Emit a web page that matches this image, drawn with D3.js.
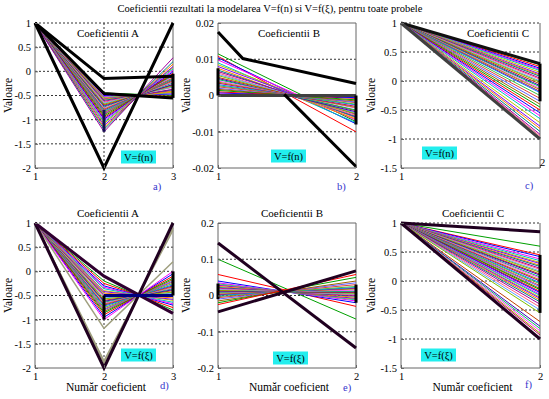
<!DOCTYPE html>
<html>
<head>
<meta charset="utf-8">
<script src="https://cdn.jsdelivr.net/npm/d3@7"></script>
<style>
  body { margin: 0; background: #fff; }
</style>
</head>
<body>
<div id="chart"></div>
<script>
// Coeficientii A, V=f(n): value at coefficient 2 and 3 for each sample (coefficient 1 is 1)
const aN2 = [-0.45, -0.47, -0.5, -0.52, -0.54, -0.55, -0.57, -0.58, -0.6, -0.62, -0.64, -0.66, -0.68, -0.7, -0.72, -0.74, -0.76,
             -0.78, -0.8, -0.82, -0.84, -0.86, -0.88, -0.9, -0.93, -0.96, -0.99, -1.02, -1.05, -1.08, -1.12, -1.16, -1.2, -1.25];
const aN3 = [-0.5, -0.52, -0.47, -0.45, -0.44, -0.43, -0.4, -0.41, -0.38, -0.37, -0.33, -0.32, -0.3, -0.28, -0.27, -0.24, -0.22,
             -0.2, -0.18, -0.16, -0.15, -0.13, -0.1, -0.08, -0.06, -0.04, -0.01, 0.02, 0.05, 0.08, 0.1, 0.15, 0.2, 0.28];
const aNHeavy = [[[1, 1], [2, -2], [3, 1]], [[1, 1], [2, -0.15], [3, -0.1]], [[1, 1], [2, -0.46], [3, -0.55]]];
const aNBars = [[3, -0.05, -0.55], [2, -0.8, -1.25]];

// Coeficientii B, V=f(n): value at coefficient 1 and 2
const bN1 = [0.0115, 0.0108, 0.0104, 0.0098, 0.009, 0.0085, 0.008, 0.0075, 0.007, 0.0066, 0.0062, 0.0058, 0.0055, 0.005,
             0.0047, 0.0044, 0.004, 0.0037, 0.0034, 0.003, 0.0027, 0.0024, 0.002, 0.0017, 0.0014, 0.001, 0.0007, 0.0004];
const bN2 = [-0.0072, -0.01, -0.0078, -0.0068, -0.0075, -0.0062, -0.006, -0.0065, -0.0058, -0.0052, -0.0055, -0.0048, -0.005, -0.0042,
             -0.0045, -0.004, -0.0035, -0.0033, -0.003, -0.0026, -0.0024, -0.002, -0.0018, -0.0015, -0.0012, -0.0008, -0.0006, -0.0003];
const bNHeavy = [[[1, 0.0175], [1.18, 0.0102], [2, 0.0033]], [[1.48, 0.0003], [2, -0.0196]]];
const bNZero = [[1, 0], [2, 0]];
const bNBars = [[1, 0, 0.0075], [2, 0, -0.008]];

// Coeficientii C, V=f(n): value at coefficient 2 (coefficient 1 is 1)
const cN2 = [0.28, 0.25, 0.22, 0.2, 0.18, 0.15, 0.12, 0.1, 0.08, 0.05, 0.03, 0.0, -0.02, -0.05, -0.08, -0.1, -0.13, -0.15,
             -0.18, -0.2, -0.25, -0.3, -0.35, -0.4, -0.45, -0.5, -0.55, -0.6, -0.65, -0.72, -0.78, -0.82, -0.87, -0.92, -0.95];
const cNHeavy = [[[1, 1], [2, 0.3]], [[1, 1], [2, -1.0]]];
const cNBars = [[2, 0.3, -0.35]];

// Coeficientii A, V=f(ξ)
const aX2 = [-0.2, -0.25, -0.3, -0.33, -0.36, -0.4, -0.42, -0.45, -0.48, -0.5, -0.52, -0.55, -0.57, -0.6, -0.62, -0.64, -0.66,
             -0.68, -0.7, -0.72, -0.75, -0.78, -0.8, -0.83, -0.86, -0.9, -0.95, -1.0];
const aX3 = [-0.8, -0.75, -0.7, -0.67, -0.64, -0.6, -0.58, -0.55, -0.52, -0.5, -0.48, -0.45, -0.43, -0.4, -0.38, -0.36, -0.34,
             -0.32, -0.3, -0.28, -0.25, -0.22, -0.2, -0.17, -0.14, -0.1, -0.05, 0.0];
const aXGrey = [[[1, 1], [2, -1.18], [3, 0.2]], [[1, 1], [2, -1.85], [3, 0.85]], [[1, 1], [2, -1.9], [3, 0.9]]];
const aXHeavy = [[[1, 1], [2, -2], [3, 1]], [[1, 1], [2, -0.1], [3, -0.87]], [[2, -0.5], [3, -0.5]]];
const aXBars = [[2, -0.5, -1.0], [3, 0, -0.5]];

// Coeficientii B, V=f(ξ)
const bX1 = [0.1, 0.058, 0.04, 0.035, 0.032, 0.03, 0.028, 0.025, 0.022, 0.02, 0.018, 0.016, 0.014, 0.012, 0.01, 0.008, 0.006,
             0.004, 0.002, 0.0, -0.003, -0.006, -0.01, -0.015, -0.02, -0.025];
const bX2 = [-0.065, -0.03, -0.02, -0.015, -0.012, -0.01, -0.008, -0.005, -0.002, 0.0, 0.002, 0.004, 0.006, 0.008, 0.01, 0.012,
             0.015, 0.018, 0.02, 0.022, 0.025, 0.03, 0.035, 0.04, 0.05, 0.058];
const bXHeavy = [[[1, 0.145], [2, -0.145]], [[1, -0.045], [2, 0.068]]];
const bXBars = [[1, -0.01, 0.033], [2, -0.02, 0.03]];

// Coeficientii C, V=f(ξ)
const cX2 = [0.6, 0.45, 0.42, 0.38, 0.35, 0.32, 0.3, 0.27, 0.25, 0.22, 0.2, 0.17, 0.15, 0.12, 0.1, 0.07, 0.05, 0.02, 0.0, -0.03,
             -0.05, -0.08, -0.1, -0.13, -0.15, -0.18, -0.2, -0.23, -0.25, -0.28, -0.3, -0.33, -0.36, -0.4, -0.45, -0.5, -0.55,
             -0.7, -0.78, -0.82, -0.86, -0.9, -0.93];
const cXHeavy = [[[1, 1], [2, 0.85]], [[1, 1], [2, -1.0]]];
const cXBars = [[2, 0.45, -0.55]];

// axis ticks
const ticksA = [-2, -1.5, -1, -0.5, 0, 0.5, 1];
const ticksBn = [-0.02, -0.01, 0, 0.01, 0.02];
const ticksBx = [-0.2, -0.1, 0, 0.1, 0.2];
const ticksC = [-1.5, -1, -0.5, 0, 0.5, 1];
const xTicks3 = [1, 2, 3];
const xTicks2 = [1, 2];

const palette = ["#00a000", "#ff0000", "#0000ff", "#ff00ff", "#00c0c0", "#c0c000", "#8000ff", "#ff8000", "#008080",
                 "#a000a0", "#ff6080", "#60a0ff", "#80c000", "#c04000", "#4000c0", "#00c060", "#ff40ff", "#a0a000",
                 "#c00060", "#0080ff", "#40c040", "#e04040", "#6060ff", "#a06000"];

const FONT = "Liberation Serif";

const svg = d3.select("#chart").append("svg")
    .attr("width", 549).attr("height", 399)
    .attr("font-family", FONT)
    .style("background", "#fff");

const cols = [[35, 173], [218, 356], [401, 540]];
const rows = [[23, 168], [223, 368]];

const toLines3 = (m, e) => m.map((v, i) => [[1, 1], [2, v], [3, e[i]]]);
const toLines2 = (s, e) => s.map((v, i) => [[1, v], [2, e[i]]]);

const panels = [
  {c: 0, r: 0, xd: [1, 3], yd: [-2, 1], yt: ticksA, xt: xTicks3, lines: toLines3(aN2, aN3), heavy: aNHeavy, bars: aNBars,
   barColor: "#101050",
   title: "Coeficientii A", tx: 108, ty: 37, tag: "V=f(n)", tagX: 138, tagY: 157, letter: "a)", lx: 153, ly: 190, xGrid: [2], solidTop: false},
  {c: 1, r: 0, xd: [1, 2], yd: [-0.02, 0.02], yt: ticksBn, xt: xTicks2, lines: toLines2(bN1, bN2), heavy: bNHeavy, bars: bNBars,
   grey: [bNZero], greyColor: "#404040", greyWidth: 3,
   title: "Coeficientii B", tx: 289, ty: 37, tag: "V=f(n)", tagX: 288, tagY: 156, letter: "b)", lx: 337, ly: 190, xGrid: [], solidTop: true},
  {c: 2, r: 0, xd: [1, 2], yd: [-1.5, 1], yt: ticksC, xt: xTicks2, lines: cN2.map(v => [[1, 1], [2, v]]), heavy: cNHeavy, bars: cNBars,
   heavyColors: ["#101010", "#404040"],
   title: "Coeficientii C", tx: 498, ty: 37, tag: "V=f(n)", tagX: 439, tagY: 153, letter: "c)", lx: 525, ly: 189, xGrid: [], solidTop: false, lastDy: -9},
  {c: 0, r: 1, xd: [1, 3], yd: [-2, 1], yt: ticksA, xt: xTicks3, lines: toLines3(aX2, aX3), heavy: aXHeavy, bars: aXBars,
   grey: aXGrey, greyColor: "#a0a080", greyWidth: 1.5, heavyColors: ["#200020", "#300030", "#000080"],
   title: "Coeficientii A", tx: 108, ty: 217, tag: "V=f(ξ)", tagX: 138, tagY: 355, letter: "d)", lx: 160, ly: 389, xGrid: [2], solidTop: false, xlabel: true},
  {c: 1, r: 1, xd: [1, 2], yd: [-0.2, 0.2], yt: ticksBx, xt: xTicks2, lines: toLines2(bX1, bX2), heavy: bXHeavy, bars: bXBars,
   heavyColors: ["#200020", "#200020"],
   title: "Coeficientii B", tx: 292, ty: 217, tag: "V=f(ξ)", tagX: 290, tagY: 358, letter: "e)", lx: 343, ly: 391, xGrid: [], solidTop: true, xlabel: true},
  {c: 2, r: 1, xd: [1, 2], yd: [-1.5, 1], yt: ticksC, xt: xTicks2, lines: cX2.map(v => [[1, 1], [2, v]]), heavy: cXHeavy, bars: cXBars,
   heavyColors: ["#200020", "#200020"],
   title: "Coeficientii C", tx: 473, ty: 217, tag: "V=f(ξ)", tagX: 438, tagY: 355, letter: "f)", lx: 525, ly: 388, xGrid: [], solidTop: false, xlabel: true}
];

// main title
svg.append("text")
   .attr("x", 270).attr("y", 12)
   .attr("text-anchor", "middle")
   .attr("font-family", FONT)
   .attr("font-size", 10.5)
   .text("Coeficientii  rezultati la modelarea V=f(n) si V=f(ξ), pentru toate probele");

panels.forEach(p => {
  const [x0, x1] = cols[p.c], [y0, y1] = rows[p.r];
  const x = d3.scaleLinear().domain(p.xd).range([x0, x1]);
  const y = d3.scaleLinear().domain(p.yd).range([y1, y0]);
  const g = svg.append("g").attr("font-family", FONT);
  const line = d3.line().x(d => x(d[0])).y(d => y(d[1]));

  // dotted grid
  const gridY = p.yt.filter(v => v !== p.yd[0] && (v !== p.yd[1] || !p.solidTop));
  g.selectAll(".gy").data(gridY).enter().append("line")
   .attr("x1", x0).attr("x2", x1).attr("y1", d => y(d)).attr("y2", d => y(d))
   .attr("stroke", "#333").attr("stroke-dasharray", "2,2");
  g.selectAll(".gx").data(p.xGrid).enter().append("line")
   .attr("x1", d => x(d)).attr("x2", d => x(d)).attr("y1", y0).attr("y2", y1)
   .attr("stroke", "#333").attr("stroke-dasharray", "2,2");

  // box
  g.append("path")
   .attr("d", p.solidTop ? `M${x0},${y0}H${x1}V${y1}H${x0}Z` : `M${x0},${y0}V${y1}H${x1}V${y0}`)
   .attr("fill", "none").attr("stroke", "#666");

  // thin sample lines
  g.selectAll(".ln").data(p.lines).enter().append("path")
   .attr("d", line).attr("fill", "none")
   .attr("stroke", (d, i) => palette[i % palette.length]).attr("stroke-width", 1);

  if (p.grey) {
    g.selectAll(".gr").data(p.grey).enter().append("path")
     .attr("d", line).attr("fill", "none")
     .attr("stroke", p.greyColor).attr("stroke-width", p.greyWidth);
  }

  // heavy black lines and vertical bars
  g.selectAll(".hv").data(p.heavy).enter().append("path")
   .attr("d", line).attr("fill", "none")
   .attr("stroke", (d, i) => p.heavyColors ? p.heavyColors[i] : "#000").attr("stroke-width", 3);
  g.selectAll(".br").data(p.bars).enter().append("line")
   .attr("x1", d => x(d[0])).attr("x2", d => x(d[0]))
   .attr("y1", d => y(d[1])).attr("y2", d => y(d[2]))
   .attr("stroke", (d, i) => (i === 1 && p.barColor) ? p.barColor : "#000").attr("stroke-width", 3);

  // axes
  const ya = g.append("g").attr("transform", `translate(${x0},0)`)
    .call(d3.axisLeft(y).tickValues(p.yt).tickFormat(d => String(d)).tickSize(-3).tickPadding(4));
  const xa = g.append("g").attr("transform", `translate(0,${y1})`)
    .call(d3.axisBottom(x).tickValues(p.xt).tickFormat(d => String(d)).tickSize(-3).tickPadding(5));
  [ya, xa].forEach(a => {
    a.attr("font-family", FONT);
    a.select(".domain").remove();
    a.selectAll("line").attr("stroke", "#666");
    a.selectAll("text").attr("font-family", FONT).attr("font-size", 10.5).attr("fill", "#000");
  });
  if (p.lastDy) xa.selectAll(".tick text").filter(d => d === p.xt[p.xt.length - 1]).attr("y", p.lastDy).attr("x", 2);

  // labels
  g.append("text").attr("x", p.tx).attr("y", p.ty).attr("text-anchor", "middle")
   .attr("font-family", FONT).attr("font-size", 11).text(p.title);
  const vx = p.c === 0 ? 12 : (p.c === 1 ? 190 : 375);
  g.append("text")
   .attr("transform", `translate(${vx},${(y0 + y1) / 2}) rotate(-90)`)
   .attr("text-anchor", "middle").attr("font-family", FONT).attr("font-size", 11.5).text("Valoare");
  if (p.xlabel) {
    g.append("text").attr("x", (x0 + x1) / 2 + 2).attr("y", 391).attr("text-anchor", "middle")
     .attr("font-family", FONT).attr("font-size", 11.5).text("Număr coeficient");
  }
  g.append("rect").attr("x", p.tagX - 17).attr("y", p.tagY - 6.5).attr("width", 35).attr("height", 13)
   .attr("fill", "#22eeee");
  g.append("text").attr("x", p.tagX + 0.5).attr("y", p.tagY + 3.5).attr("text-anchor", "middle")
   .attr("font-family", FONT).attr("font-size", 10.5).text(p.tag);
  g.append("text").attr("x", p.lx).attr("y", p.ly).attr("font-family", FONT).attr("font-size", 10.5)
   .attr("fill", "#3333cc").text(p.letter);
});
</script>
</body>
</html>
